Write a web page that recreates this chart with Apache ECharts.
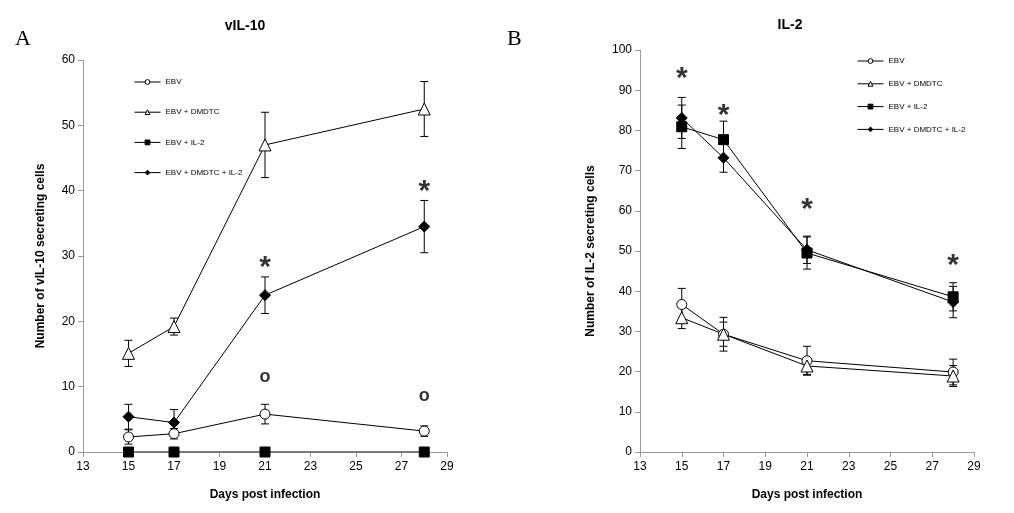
<!DOCTYPE html>
<html><head><meta charset="utf-8">
<script src="https://cdn.jsdelivr.net/npm/echarts@6/dist/echarts.min.js"></script>
<style>html,body{margin:0;padding:0;background:#fff}#c{width:1014px;height:513px}</style>
</head><body><div id="c"></div>
<script>
// ---- Data ----
const days = [15, 17, 21, 28];
const seriesNames = ['EBV', 'EBV + DMDTC', 'EBV + IL-2', 'EBV + DMDTC + IL-2'];
// Panel A: vIL-10
const vil10_EBV = [2.3, 2.8, 5.8, 3.2];
const vil10_EBV_err = [1.1, 0.8, 1.5, 0.8];
const vil10_DMDTC = [15.1, 19.2, 47.0, 52.5];
const vil10_DMDTC_err = [2.0, 1.3, 5.0, 4.2];
const vil10_IL2 = [0, 0, 0, 0];
const vil10_IL2_err = [0, 0, 0, 0];
const vil10_DMDTC_IL2 = [5.4, 4.5, 24.0, 34.5];
const vil10_DMDTC_IL2_err = [1.9, 2.0, 2.8, 4.0];
const vil10_star = [[21, 29.0], [28, 40.6]];
const vil10_circ = [[21, 11.4], [28, 8.6]];
// Panel B: IL-2
const il2_EBV = [36.7, 29.3, 22.7, 19.9];
const il2_EBV_err = [4.0, 3.0, 3.6, 3.2];
const il2_DMDTC = [33.4, 29.3, 21.4, 18.9];
const il2_DMDTC_err = [2.7, 4.2, 2.1, 2.6];
const il2_IL2 = [80.9, 77.7, 49.5, 38.6];
const il2_IL2_err = [5.4, 4.6, 4.0, 3.5];
const il2_DMDTC_IL2 = [83.1, 73.2, 50.3, 37.3];
const il2_DMDTC_IL2_err = [5.1, 3.6, 3.4, 3.9];
const il2_star = [[15, 94], [17, 85], [21, 61.5], [28, 47.6]];

const xTicksMin = 13, xTicksMax = 29, xInterval = 2;

const markers = [
  {symbol: 'circle', size: 10, fill: '#fff'},
  {symbol: 'triangle', size: 12, fill: '#fff'},
  {symbol: 'rect', size: 10, fill: '#000'},
  {symbol: 'diamond', size: 11, fill: '#000'}
];

function pairs(vals){ return days.map((d,i)=>[d, vals[i]]); }
function errData(vals, errs){ return days.map((d,i)=>[d, vals[i]-errs[i], vals[i]+errs[i]]); }

function errSeries(vals, errs, idx){
  return {
    type: 'custom', xAxisIndex: idx, yAxisIndex: idx, z: 2, silent: true,
    data: errData(vals, errs),
    renderItem: function(params, api){
      const lo = api.coord([api.value(0), api.value(1)]);
      const hi = api.coord([api.value(0), api.value(2)]);
      const w = 4;
      const st = {stroke: '#000', lineWidth: 1};
      return {type: 'group', children: [
        {type:'line', shape:{x1:lo[0], y1:lo[1], x2:hi[0], y2:hi[1]}, style: st},
        {type:'line', shape:{x1:lo[0]-w, y1:lo[1], x2:lo[0]+w, y2:lo[1]}, style: st},
        {type:'line', shape:{x1:hi[0]-w, y1:hi[1], x2:hi[0]+w, y2:hi[1]}, style: st}
      ]};
    }
  };
}
function lineSeries(name, vals, k, idx){
  const m = markers[k];
  return {
    name: name, type: 'line', xAxisIndex: idx, yAxisIndex: idx, z: 5,
    data: pairs(vals), symbol: m.symbol, symbolSize: m.size, showAllSymbol: true,
    lineStyle: {color: '#000', width: 1},
    itemStyle: {color: m.fill, borderColor: '#000', borderWidth: 1},
    emphasis: {disabled: true}, animation: false
  };
}
function textSeries(pts, txt, size, idx, dy){
  return {
    type: 'scatter', xAxisIndex: idx, yAxisIndex: idx, symbolSize: 0, silent: true,
    data: pts,
    label: {show: true, position: 'inside', formatter: txt, offset: [0, dy],
      fontFamily: 'Liberation Sans', fontWeight: 'bold', fontSize: size, color: '#000'}
  };
}

const axisFont = {fontFamily: 'Liberation Sans', fontSize: 12, color: '#000'};
const nameFont = {fontFamily: 'Liberation Sans', fontSize: 12, fontWeight: 'bold', color: '#000'};
function xAxis(idx){
  return {type:'value', gridIndex: idx, min: xTicksMin, max: xTicksMax, interval: xInterval,
    name: 'Days post infection', nameLocation: 'middle', nameGap: 37, nameTextStyle: nameFont,
    axisLine: {lineStyle: {color: '#9a9a9a'}}, axisTick: {show: true, length: 5, lineStyle:{color:'#9a9a9a'}},
    axisLabel: Object.assign({margin: 9}, axisFont), splitLine: {show: false}};
}
function yAxis(idx, max, name, gap){
  return {type:'value', gridIndex: idx, min: 0, max: max, interval: 10,
    name: name, nameLocation: 'middle', nameGap: gap, nameTextStyle: nameFont,
    axisLine: {show: true, lineStyle: {color: '#9a9a9a'}}, axisTick: {show: true, length: 5, lineStyle:{color:'#9a9a9a'}},
    axisLabel: Object.assign({margin: 8}, axisFont), splitLine: {show: false}};
}

const legendStyle = {fontFamily: 'Liberation Sans', fontSize: 8, color: '#000'};
const legendCommon = {orient: 'vertical', itemWidth: 26, itemHeight: 6, textStyle: legendStyle,
  selectedMode: false, lineStyle: {width: 1}, itemStyle: {borderWidth: 1}};

const option = {
  backgroundColor: '#fff',
  animation: false,
  title: [
    {text: 'vIL-10', left: 240, top: 14, textAlign: 'center', textStyle: {fontFamily:'Liberation Sans', fontSize: 14, fontWeight:'bold', color:'#000'}},
    {text: 'IL-2', left: 785, top: 13, textAlign: 'center', textStyle: {fontFamily:'Liberation Sans', fontSize: 14, fontWeight:'bold', color:'#000'}},
    {text: 'A', left: 10, top: 23, textStyle: {fontFamily:'Liberation Serif', fontSize: 22, fontWeight:'normal', color:'#000'}},
    {text: 'B', left: 502, top: 23, textStyle: {fontFamily:'Liberation Serif', fontSize: 22, fontWeight:'normal', color:'#000'}}
  ],
  grid: [
    {left: 83, right: 567, top: 60, bottom: 61},
    {left: 640, right: 40, top: 50, bottom: 61}
  ],
  legend: [
    Object.assign({left: 129, top: 73, itemGap: 22.2, data: seriesNames.map(n=>({name: n}))}, legendCommon),
    Object.assign({left: 852, top: 52, itemGap: 14.8, data: seriesNames.map(n=>({name: n+' '})),
      formatter: n => n.trim()}, legendCommon)
  ],
  xAxis: [xAxis(0), xAxis(1)],
  yAxis: [yAxis(0, 60, 'Number of vIL-10 secreting cells', 36), yAxis(1, 100, 'Number of IL-2 secreting cells', 43)],
  series: [
    errSeries(vil10_EBV, vil10_EBV_err, 0),
    errSeries(vil10_DMDTC, vil10_DMDTC_err, 0),
    errSeries(vil10_DMDTC_IL2, vil10_DMDTC_IL2_err, 0),
    lineSeries(seriesNames[0], vil10_EBV, 0, 0),
    lineSeries(seriesNames[1], vil10_DMDTC, 1, 0),
    lineSeries(seriesNames[2], vil10_IL2, 2, 0),
    lineSeries(seriesNames[3], vil10_DMDTC_IL2, 3, 0),
    textSeries(vil10_star, '*', 30, 0, 5),
    textSeries(vil10_circ, 'o', 18, 0, 0),
    errSeries(il2_EBV, il2_EBV_err, 1),
    errSeries(il2_DMDTC, il2_DMDTC_err, 1),
    errSeries(il2_IL2, il2_IL2_err, 1),
    errSeries(il2_DMDTC_IL2, il2_DMDTC_IL2_err, 1),
    lineSeries(seriesNames[0]+' ', il2_EBV, 0, 1),
    lineSeries(seriesNames[1]+' ', il2_DMDTC, 1, 1),
    lineSeries(seriesNames[2]+' ', il2_IL2, 2, 1),
    lineSeries(seriesNames[3]+' ', il2_DMDTC_IL2, 3, 1),
    textSeries(il2_star, '*', 30, 1, 5)
  ]
};
const chart = echarts.init(document.getElementById('c'), null, {renderer: 'canvas'});
chart.setOption(option);
</script></body></html>
